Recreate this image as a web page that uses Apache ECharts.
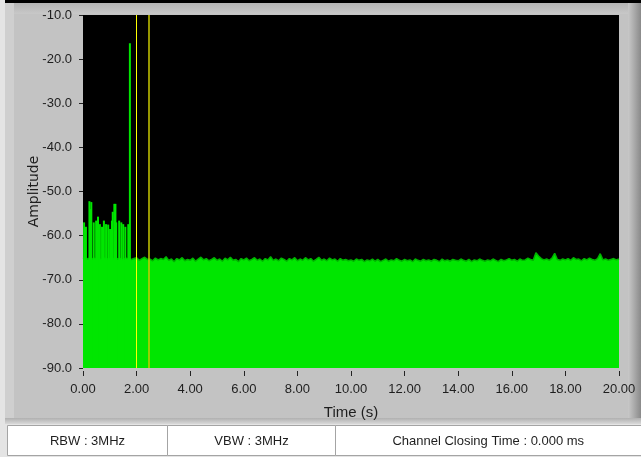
<!DOCTYPE html>
<html>
<head>
<meta charset="utf-8">
<script src="https://cdn.jsdelivr.net/npm/echarts@6/dist/echarts.min.js"></script>
<style>
html,body{margin:0;padding:0;background:#e4e4e4;}
#chart{width:641px;height:457px;}
</style>
</head>
<body>
<div id="chart"></div>
<script>
// ---- data ----
const xTickLabels = ['0.00','2.00','4.00','6.00','8.00','10.00','12.00','14.00','16.00','18.00','20.00'];
const yTickLabels = ['-90.0','-80.0','-70.0','-60.0','-50.0','-40.0','-30.0','-20.0','-10.0'];
const floorStep = 0.1; // seconds between noise-floor samples
const floorAmps = [
 -65.0,-65.3,-65.2,-65.4,-65.1,-65.3,-65.2,-65.5,-65.1,-65.3,
 -65.2,-65.4,-65.0,-65.3,-65.2,-65.5,-65.1,-65.3,-65.4,-65.2,
 -65.0,-65.6,-65.2,-64.9,-65.4,-65.3,-65.7,-65.1,-65.5,-65.2,
 -65.4,-64.8,-65.6,-65.3,-65.9,-65.2,-65.5,-65.0,-65.7,-65.4,
 -65.6,-65.1,-65.8,-65.3,-64.9,-65.5,-65.2,-65.7,-65.4,-65.0,
 -65.6,-65.3,-65.8,-65.1,-65.5,-64.9,-65.6,-65.4,-65.9,-65.2,
 -65.5,-65.1,-65.7,-65.4,-65.0,-65.6,-65.3,-65.8,-65.2,-65.5,
 -64.8,-65.6,-65.3,-65.7,-65.1,-65.4,-65.8,-65.2,-65.5,-65.0,
 -65.7,-65.3,-65.6,-65.0,-65.5,-65.2,-65.8,-65.4,-64.9,-65.6,
 -65.3,-65.7,-65.1,-65.5,-65.3,-65.8,-65.2,-65.6,-65.4,-65.7,
 -65.5,-65.8,-65.3,-65.6,-65.4,-65.9,-65.5,-65.7,-65.3,-65.8,
 -65.4,-65.9,-65.6,-65.3,-65.8,-65.5,-65.7,-65.2,-65.6,-65.8,
 -65.4,-65.7,-65.5,-65.9,-65.3,-65.6,-65.8,-65.4,-65.7,-65.5,
 -65.8,-65.4,-65.6,-65.9,-65.3,-65.7,-65.5,-65.8,-65.4,-65.6,
 -65.7,-65.3,-65.6,-65.8,-65.4,-65.9,-65.5,-65.7,-65.3,-65.6,
 -65.8,-65.5,-65.7,-65.3,-65.6,-65.9,-65.4,-65.7,-65.5,-65.2,
 -65.6,-65.4,-65.8,-65.3,-65.6,-65.5,-65.1,-65.4,-65.6,-63.9,
 -64.6,-65.2,-65.5,-65.3,-65.6,-65.1,-64.0,-65.4,-65.6,-65.3,
 -65.5,-65.2,-65.6,-65.0,-65.4,-65.3,-65.7,-65.2,-65.5,-65.1,
 -65.4,-65.6,-65.2,-64.1,-65.5,-65.3,-65.6,-65.4,-65.2,-65.5,
 -65.3
];
const spikeTimes = [0.04,0.11,0.24,0.27,0.31,0.40,0.49,0.56,0.63,0.71,0.78,0.86,0.94,1.01,1.08,1.11,1.17,1.21,1.24,1.35,1.43,1.50,1.58,1.69,1.75];
const spikePeaks = [-57.0,-58.0,-52.2,-54.0,-52.4,-57.0,-56.6,-55.7,-57.4,-58.0,-56.6,-57.4,-57.5,-58.5,-56.6,-54.6,-52.8,-52.8,-57.0,-56.6,-57.0,-57.4,-58.0,-57.4,-16.4];
const cursorTimes = [1.98, 2.45];
const tableTexts = ['RBW : 3MHz', 'VBW : 3MHz', 'Channel Closing Time : 0.000 ms'];
const AMP_MIN = -90, AMP_MAX = -10, T_MIN = 0, T_MAX = 20;

// ---- build ----
const floorData = floorAmps.map((v, i) => [+(i * floorStep).toFixed(2), v]);
const spikeData = spikeTimes.map((t, i) => [t, spikePeaks[i]]);
const GREEN = '#00e600';
const labelFont = '"Liberation Sans", Arial, sans-serif';

const chart = echarts.init(document.getElementById('chart'), null, {renderer: 'canvas'});
const cellX = [7.5, 167.5, 335.5, 645];
const graphics = [
  {type:'rect', z:-10, shape:{x:5, y:0, width:636, height:3}, style:{fill:'#000'}},
  {type:'rect', z:-10, shape:{x:5, y:3, width:624, height:419}, style:{fill:'#c3c3c3'}},
  {type:'rect', z:-9, shape:{x:5, y:3, width:624, height:11}, style:{fill:new echarts.graphic.LinearGradient(0,0,0,1,[{offset:0,color:'#b4b4b4'},{offset:1,color:'#c8c8c8'}])}},
  {type:'rect', z:-9, shape:{x:5, y:3, width:9, height:419}, style:{fill:'#cfcfcf'}},
  {type:'rect', z:-9, shape:{x:628, y:3, width:13, height:421}, style:{fill:new echarts.graphic.LinearGradient(0,0,1,0,[{offset:0,color:'#c8c8c8'},{offset:1,color:'#8a8a8a'}])}},
  {type:'rect', z:-9, shape:{x:5, y:418, width:636, height:6}, style:{fill:new echarts.graphic.LinearGradient(0,0,0,1,[{offset:0,color:'#b0b0b0'},{offset:1,color:'#d8d8d8'}])}}
];
for (let i = 0; i < 3; i++) {
  graphics.push({type:'rect', z:-8, shape:{x:cellX[i], y:425.5, width:cellX[i+1]-cellX[i], height:30}, style:{fill:'#ffffff', stroke:'#a4a4a4', lineWidth:1}});
  graphics.push({type:'text', z:-7, x:(cellX[i] + Math.min(cellX[i+1], 641))/2, y:441,
    style:{text:tableTexts[i], fill:'#1e1e1e', font:'13px "Liberation Sans", Arial, sans-serif', textAlign:'center', textVerticalAlign:'middle'}});
}

const option = {
  animation: false,
  backgroundColor: '#e4e4e4',
  graphic: graphics,
  grid: {left:83, top:15, right:22, bottom:89, show:true, backgroundColor:'#000000', borderWidth:0},
  xAxis: {
    type:'value', min:T_MIN, max:T_MAX, interval:2, offset:3,
    name:'Time (s)', nameLocation:'middle', nameGap:34, nameMoveOverlap:false,
    nameTextStyle:{fontFamily:labelFont, fontSize:15, color:'#1e1e1e'},
    axisLine:{show:false},
    axisTick:{show:true, length:5, lineStyle:{color:'#222', width:1}},
    splitLine:{show:false},
    axisLabel:{fontFamily:labelFont, fontSize:13, color:'#1e1e1e', margin:12,
      formatter:(v)=> xTickLabels[Math.round(v/2)]}
  },
  yAxis: {
    type:'value', min:AMP_MIN, max:AMP_MAX, interval:10, offset:3,
    name:'Amplitude', nameLocation:'middle', nameRotate:90, nameGap:39, nameMoveOverlap:false,
    nameTextStyle:{fontFamily:'"DejaVu Sans", sans-serif', fontSize:14, color:'#1e1e1e'},
    axisLine:{show:false},
    axisTick:{show:true, length:4, lineStyle:{color:'#222', width:1}},
    splitLine:{show:false},
    axisLabel:{fontFamily:labelFont, fontSize:13, color:'#1e1e1e', margin:8,
      formatter:(v)=> yTickLabels[Math.round((v-AMP_MIN)/10)]}
  },
  series: [
    {
      type:'line', data:floorData, symbol:'none', z:2,
      lineStyle:{color:'#00b400', width:1.5},
      areaStyle:{color:GREEN, opacity:1, origin:'start'}
    },
    {
      type:'custom', data:spikeData, z:3, clip:true,
      renderItem:(params, api) => {
        const top = api.coord([api.value(0), api.value(1)]);
        const base = api.coord([api.value(0), AMP_MIN]);
        return {type:'rect', shape:{x:top[0]-1, y:top[1], width:2, height:base[1]-top[1]}, style:{fill:GREEN}};
      }
    },
    {
      type:'line', data:[], z:5, symbol:'none',
      markLine:{
        silent:true, symbol:['none','none'], label:{show:false}, animation:false,
        data:[
          {xAxis:cursorTimes[0], lineStyle:{color:'#ffff00', width:1, type:'solid'}},
          {xAxis:cursorTimes[1], lineStyle:{color:'#c8c800', width:1.5, type:'solid'}}
        ]
      }
    }
  ]
};
chart.setOption(option);
</script>
</body>
</html>
